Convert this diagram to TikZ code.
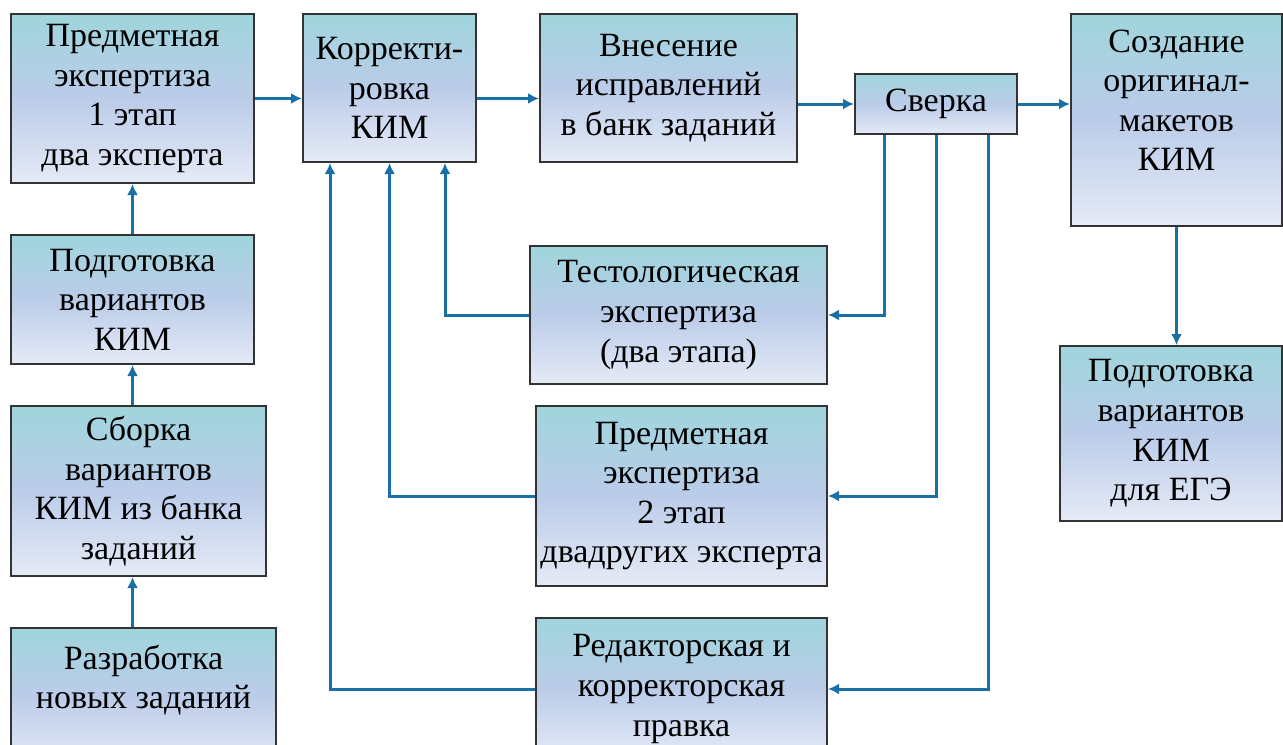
\documentclass[tikz,border=0pt]{standalone}
\usepackage{fontspec}
\setmainfont{Liberation Serif}
\usetikzlibrary{arrows.meta}
\definecolor{boxtop}{HTML}{9FD5DC}
\definecolor{boxmid}{HTML}{BBCCE9}
\definecolor{boxbot}{HTML}{E5EAF6}
\definecolor{arrblue}{HTML}{1A6FA6}
\definecolor{boxline}{HTML}{333333}

\begin{document}
\begin{tikzpicture}[x=0.5pt,y=-0.5pt,
  blk/.style={draw=boxline, line width=1pt, top color=boxtop, bottom color=boxbot, middle color=boxmid,
    align=center, inner sep=0pt, font=\fontsize{17}{19.8}\selectfont},
  arr/.style={draw=arrblue, line width=1.5pt, -{Latex[length=5.5pt,width=5.5pt]}}]
\clip (0,0) rectangle (1283,744);

% left column
\node[blk, minimum width=121.5pt, minimum height=84.5pt] (pe1) at (132.5,98.5) {Предметная\\экспертиза\\1 этап\\два эксперта};
\node[blk, minimum width=121.5pt, minimum height=64.5pt] (podg) at (132.5,299.5) {Подготовка\\вариантов\\КИМ};
\node[blk, minimum width=127.5pt, minimum height=85pt] (sborka) at (138.5,491) {Сборка\\вариантов\\КИМ из банка\\заданий};
\node[blk, minimum width=132.5pt, minimum height=68.5pt] (razr) at (143.5,696.5) {Разработка\\новых заданий\\\mbox{}};

% top row
\node[blk, minimum width=86.5pt, minimum height=74pt] (korr) at (389.5,88) {Корректи-\\ровка\\КИМ};
\node[blk, minimum width=128.5pt, minimum height=74pt] (vnes) at (668.5,88) {Внесение\\исправлений\\в банк заданий};
\node[blk, minimum width=81pt, minimum height=30pt] (sverka) at (936,104) {Сверка};
\node[blk, minimum width=105.5pt, minimum height=106pt] (sozd) at (1176.5,120) {Создание\\оригинал-\\макетов\\КИМ\\\mbox{}};
\node[blk, minimum width=111pt, minimum height=87.5pt] (podgege) at (1171,433.5) {Подготовка\\вариантов\\КИМ\\для ЕГЭ};

% middle column
\node[blk, minimum width=148.5pt, minimum height=69pt] (test) at (678.5,315) {Тестологическая\\экспертиза\\(два этапа)};
\node[blk, minimum width=145.5pt, minimum height=90pt] (pe2) at (681.5,496) {Предметная\\экспертиза\\2 этап\\двадругих эксперта};
\node[blk, minimum width=145.5pt, minimum height=71pt] (red) at (681.5,689) {Редакторская и\\корректорская\\правка};

% main flow
\draw[arr] (razr.north -| podg.south) -- (sborka.south -| podg.south);
\draw[arr] (sborka.north -| podg.south) -- (podg.south);
\draw[arr] (podg.north) -- (pe1.south);
\draw[arr] (pe1.east) -- (pe1.east -| korr.west);
\draw[arr] (korr.east |- pe1.east) -- (vnes.west |- pe1.east);
\draw[arr] (vnes.east |- sverka.west) -- (sverka.west);
\draw[arr] (sverka.east) -- (sverka.east -| sozd.west);
\draw[arr] (sozd.south) -- (sozd.south |- podgege.north);

% from Sverka to the checks
\draw[arr] ([xshift=15pt]sverka.south west) |- (test.east);
\draw[arr] (sverka.south) |- (pe2.east);
\draw[arr] ([xshift=-15pt]sverka.south east) |- (red.east);

% back to Korrektirovka
\draw[arr] (test.west) -| ([xshift=27.75pt]korr.south);
\draw[arr] (pe2.west) -| (korr.south);
\draw[arr] (red.west) -| ([xshift=-29.75pt]korr.south);
\end{tikzpicture}
\end{document}
